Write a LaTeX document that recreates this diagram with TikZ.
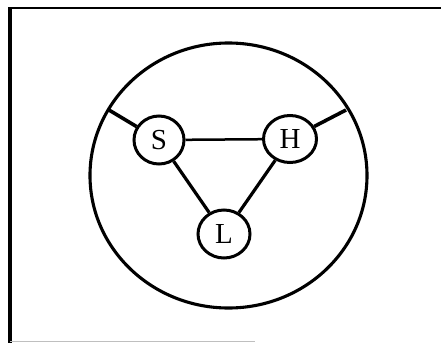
\documentclass[tikz,border=0pt]{standalone}
\usepackage{fontspec}
\setmainfont{Liberation Serif}
\usetikzlibrary{shapes.geometric}
\begin{document}
\begin{tikzpicture}[x=1pt,y=-1pt,
  atom/.style={draw, ellipse, line width=3pt, inner sep=0pt, minimum width=50pt, minimum height=48pt, font=\fontsize{29}{29}\selectfont},
  ring/.style={draw, ellipse, line width=3.1pt, inner sep=0pt, minimum width=277pt, minimum height=265pt},
  spoke/.style={line width=3.6pt},
  bond/.style={line width=3.2pt}]
\useasboundingbox (0,0) rectangle (441,343);
\fill[white] (0,0) rectangle (441,343);
% frame
\draw[line width=3.2pt] (10,7) -- (10,343);
\draw[line width=2.8pt] (8.5,8) -- (441,8);
\draw[line width=1.5pt, black!25] (10,341.5) -- (255,341.5);
% outer ring
\node[ring] (ring) at (228.5,175.5) {};
% atoms
\node[atom] (S) at (159,140) {S};
\node[atom, minimum width=53pt, minimum height=47pt] (H) at (290,139) {H};
\node[atom, minimum width=52pt] (L) at (224,234) {L};
% anchors on the ring
\coordinate (pS) at (109,110);
\coordinate (pH) at (346,110);
% connectors
\draw[spoke] (S) -- (pS);
\draw[spoke] (H) -- (pH);
\draw[line width=2.5pt] (S) -- (H);
\draw[bond] (S) -- (L);
\draw[bond] (H) -- (L);
\end{tikzpicture}
\end{document}
